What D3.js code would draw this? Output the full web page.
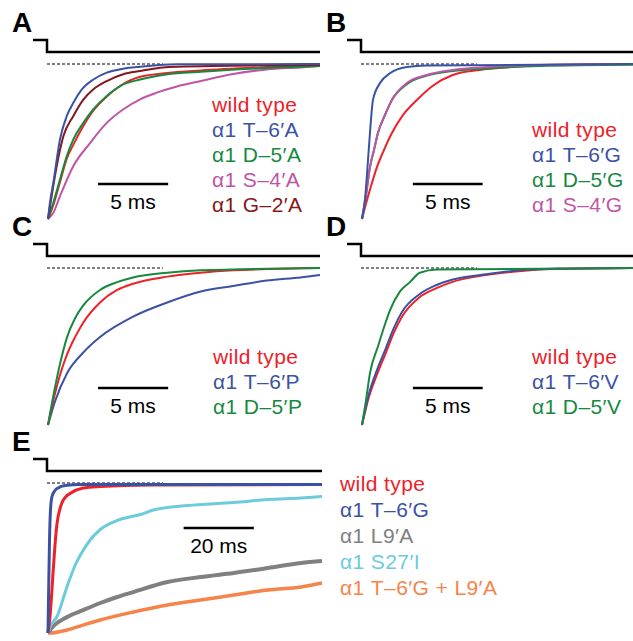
<!DOCTYPE html>
<html>
<head>
<meta charset="utf-8">
<script src="https://cdn.jsdelivr.net/npm/d3@7"></script>
<style>
  body { margin: 0; background: #fff; }
  svg { display: block; font-family: "Liberation Sans", Arial, sans-serif; }
</style>
</head>
<body>
<div class="canvas"></div>
<script>
const dims = {width: 633, height: 641};

const colors = {
  wt: '#ee2128', blue: '#3b52a3', green: '#17893f', magenta: '#bf55a6',
  darkred: '#84181b', cyan: '#6ccbdd', gray: '#808080', orange: '#f5844a'
};

// normalized traces: [time (ms), fraction of peak]
// panel A (alanine)
const a_wt = [[0,0],[0.38,0.09],[0.86,0.24],[1.34,0.39],[1.81,0.48],[2.52,0.6],[3.24,0.7],[4.19,0.79],[5.14,0.858],[6.57,0.918],[8.5,0.942],[10.9,0.958],[15.6,0.98],[19.4,0.994]];
const a_t6 = [[0,0],[0.14,0.105],[0.38,0.234],[0.86,0.516],[1.34,0.665],[1.81,0.75],[2.52,0.847],[3.24,0.9],[4.19,0.944],[5.36,0.97],[6.57,0.983],[7.76,0.992],[9.19,0.998],[19.4,1]];
const a_d5 = [[0,0],[0.38,0.105],[0.86,0.256],[1.34,0.406],[1.81,0.514],[2.52,0.62],[3.24,0.708],[4.19,0.794],[5.14,0.858],[6.57,0.9],[7.76,0.923],[9.19,0.94],[10.9,0.95],[15.6,0.974],[19.4,0.987]];
const a_s4 = [[0,0],[0.38,0.04],[0.86,0.148],[1.81,0.342],[3,0.49],[4.19,0.62],[5.38,0.708],[6.57,0.772],[7.76,0.815],[9.19,0.855],[10.9,0.89],[13.2,0.935],[15.6,0.965],[18,0.978],[19.4,0.987]];
const a_g2 = [[0,0],[0.26,0.148],[0.62,0.34],[1.1,0.535],[1.81,0.665],[2.52,0.77],[3.24,0.837],[4.19,0.89],[5.36,0.934],[6.57,0.955],[8,0.976],[9.2,0.983],[19.4,0.993]];

// panel B (glycine)
const b_wt = [[0,0],[0.36,0.123],[0.71,0.232],[1.07,0.335],[1.57,0.445],[2.14,0.555],[2.93,0.67],[3.93,0.768],[5.07,0.86],[6.5,0.929],[8.43,0.961],[10.57,0.98],[12.71,0.994],[19.4,1]];
const b_t6 = [[0,0],[0.21,0.123],[0.43,0.38],[0.57,0.555],[0.79,0.77],[1.29,0.877],[2,0.94],[3.21,0.98],[4.64,0.99],[19.4,1]];
const b_d5 = [[0,0],[0.29,0.155],[0.57,0.335],[0.86,0.445],[1.14,0.555],[1.64,0.67],[2.14,0.768],[3.21,0.87],[4.64,0.925],[6.5,0.955],[8.93,0.971],[12.71,0.987],[19.4,0.995]];
const b_s4 = [[0,0],[0.29,0.155],[0.57,0.335],[0.86,0.445],[1.14,0.555],[1.64,0.67],[2.14,0.768],[3.21,0.877],[4.64,0.929],[6.5,0.961],[8.93,0.98],[12.71,0.994],[19.4,1]];

// panel C (proline)
const c_wt = [[0,0],[0.5,0.2],[0.86,0.32],[1.36,0.45],[1.93,0.56],[2.5,0.65],[3.71,0.78],[4.93,0.86],[6.07,0.9],[8.5,0.945],[10.9,0.97],[13.2,0.985],[19.4,1]];
const c_t6 = [[0,0],[0.5,0.15],[1.36,0.33],[2.5,0.46],[3.71,0.56],[6.07,0.69],[8.5,0.78],[10.9,0.85],[13.2,0.885],[15.6,0.92],[18,0.94],[19.4,0.955]];
const c_d5 = [[0,0],[0.5,0.24],[0.86,0.39],[1.36,0.56],[1.93,0.68],[2.5,0.76],[3.71,0.86],[4.93,0.91],[6.07,0.94],[8.5,0.97],[10.9,0.985],[19.4,1]];

// panel D (valine)
const d_wt = [[0,0],[0.5,0.18],[1.07,0.32],[1.71,0.46],[2.29,0.59],[2.86,0.69],[4.07,0.81],[5.29,0.87],[6.43,0.91],[8.86,0.955],[11.2,0.98],[14.1,0.995],[19.4,1]];
const d_t6 = [[0,0],[0.5,0.2],[1.07,0.35],[1.71,0.49],[2.29,0.62],[2.86,0.72],[4.07,0.83],[5.29,0.89],[6.43,0.925],[8.86,0.96],[11.2,0.985],[14.1,0.995],[19.4,1]];
const d_d5 = [[0,0],[0.29,0.16],[0.57,0.33],[1.14,0.5],[1.64,0.64],[2,0.73],[2.71,0.85],[3.43,0.91],[4.14,0.97],[5.36,0.99],[19.4,1]];

// panel E (long time scale)
const e_wt = [[0,0],[0.57,0.11],[1.14,0.29],[1.43,0.4],[2,0.59],[2.57,0.73],[3.43,0.83],[4,0.87],[5.14,0.91],[6.29,0.93],[10,0.967],[14.9,0.977],[29,0.987],[78,0.99]];
const e_t6 = [[0,0],[0.14,0.22],[0.43,0.62],[0.71,0.82],[1.14,0.91],[2,0.95],[2.86,0.967],[4.86,0.983],[9.1,0.99],[78,0.99]];
const e_l9 = [[0,0],[0.57,0.02],[5.43,0.107],[10,0.153],[14.9,0.2],[19.7,0.24],[24.3,0.273],[34,0.34],[43.4,0.373],[52.9,0.4],[62.6,0.433],[72,0.467],[78,0.48]];
const e_s27 = [[0,0],[0.57,0.04],[2.57,0.11],[5.43,0.31],[7.7,0.45],[10,0.55],[12,0.62],[14.9,0.69],[19.7,0.75],[26.3,0.79],[30,0.82],[39.7,0.85],[52.9,0.87],[62.6,0.89],[72,0.9],[78,0.91]];
const e_t6l9 = [[0,0],[0.57,0],[5.43,0.02],[10,0.053],[14.9,0.087],[24.3,0.14],[34,0.187],[43.4,0.22],[52.9,0.253],[62.6,0.287],[72,0.307],[78,0.333]];

const panels = [
  {label: 'A', x0: 48, x1: 320, y0: 219, yTop: 64, span: 19.4, bar: [3.57, 5], barY: 184, barText: '5 ms',
   series: [
     {data: a_s4, color: colors.magenta},
     {data: a_wt, color: colors.wt},
     {data: a_d5, color: colors.green},
     {data: a_g2, color: colors.darkred},
     {data: a_t6, color: colors.blue}],
   legend: ['wild type', '\u03b11 T\u20136\u2032A', '\u03b11 D\u20135\u2032A', '\u03b11 S\u20134\u2032A', '\u03b11 G\u20132\u2032A'],
   legendColors: [colors.wt, colors.blue, colors.green, colors.magenta, colors.darkred],
   legendX: 212, legendY: 112, legendStep: 25, lw: 2},
  {label: 'B', x0: 362, x1: 633, y0: 219, yTop: 64, span: 19.4, bar: [3.64, 5], barY: 184, barText: '5 ms',
   series: [
     {data: b_wt, color: colors.wt},
     {data: b_d5, color: colors.green},
     {data: b_s4, color: colors.magenta},
     {data: b_t6, color: colors.blue}],
   legend: ['wild type', '\u03b11 T\u20136\u2032G', '\u03b11 D\u20135\u2032G', '\u03b11 S\u20134\u2032G'],
   legendColors: [colors.wt, colors.blue, colors.green, colors.magenta],
   legendX: 532, legendY: 137, legendStep: 25, lw: 2},
  {label: 'C', x0: 48, x1: 320, y0: 425, yTop: 268, span: 19.4, bar: [3.57, 5], barY: 388, barText: '5 ms',
   series: [
     {data: c_t6, color: colors.blue},
     {data: c_wt, color: colors.wt},
     {data: c_d5, color: colors.green}],
   legend: ['wild type', '\u03b11 T\u20136\u2032P', '\u03b11 D\u20135\u2032P'],
   legendColors: [colors.wt, colors.blue, colors.green],
   legendX: 213, legendY: 364, legendStep: 25, lw: 2},
  {label: 'D', x0: 362, x1: 633, y0: 425, yTop: 268, span: 19.4, bar: [3.64, 5], barY: 388, barText: '5 ms',
   series: [
     {data: d_wt, color: colors.wt},
     {data: d_t6, color: colors.blue},
     {data: d_d5, color: colors.green}],
   legend: ['wild type', '\u03b11 T\u20136\u2032V', '\u03b11 D\u20135\u2032V'],
   legendColors: [colors.wt, colors.blue, colors.green],
   legendX: 532, legendY: 364, legendStep: 25, lw: 2},
  {label: 'E', x0: 48, x1: 322, y0: 633, yTop: 483, span: 78, bar: [38.6, 20], barY: 528, barText: '20 ms',
   series: [
     {data: e_t6l9, color: colors.orange, w: 3.5},
     {data: e_l9, color: colors.gray, w: 4},
     {data: e_s27, color: colors.cyan, w: 3},
     {data: e_wt, color: colors.wt, w: 3},
     {data: e_t6, color: colors.blue, w: 3}],
   legend: ['wild type', '\u03b11 T\u20136\u2032G', '\u03b11 L9\u2032A', '\u03b11 S27\u2032I', '\u03b11 T\u20136\u2032G + L9\u2032A'],
   legendColors: [colors.wt, colors.blue, colors.gray, colors.cyan, colors.orange],
   legendX: 340, legendY: 491, legendStep: 26, lw: 3}
];

const svg = d3.select('.canvas')
  .append('svg')
  .attr('width', dims.width)
  .attr('height', dims.height);

panels.forEach(p => {
  const g = svg.append('g');

  const x = d3.scaleLinear().domain([0, p.span]).range([p.x0, p.x1]);
  const y = d3.scaleLinear().domain([0, 1]).range([p.y0, p.yTop]);

  // panel letter
  g.append('text')
    .attr('x', p.x0 - 36)
    .attr('y', p.yTop - 32)
    .attr('font-size', 28)
    .attr('font-weight', 'bold')
    .text(p.label);

  // solution exchange step
  const stepHi = p.yTop - 24, stepLo = p.yTop - 12;
  g.append('path')
    .attr('fill', 'none')
    .attr('stroke', '#000')
    .attr('stroke-width', 2.5)
    .attr('d', `M${p.x0 - 15},${stepHi}H${p.x0 - 1}V${stepLo}H${p.x1}`);

  // dotted line at full current
  g.append('line')
    .attr('x1', p.x0 - 1).attr('x2', p.x0 + 115)
    .attr('y1', y(1)).attr('y2', y(1))
    .attr('stroke', '#000')
    .attr('stroke-width', 1)
    .attr('stroke-dasharray', '3,2');

  const line = d3.line()
    .x(d => x(d[0]))
    .y(d => y(d[1]))
    .curve(d3.curveMonotoneX);

  g.selectAll('.trace')
    .data(p.series)
    .enter()
    .append('path')
      .classed('trace', true)
      .attr('fill', 'none')
      .attr('stroke', d => d.color)
      .attr('stroke-width', d => d.w || p.lw)
      .attr('stroke-linejoin', 'round')
      .attr('d', d => line(d.data));

  // scale bar
  const bx0 = x(p.bar[0]), bx1 = x(p.bar[0] + p.bar[1]);
  g.append('line')
    .attr('x1', bx0).attr('x2', bx1)
    .attr('y1', p.barY).attr('y2', p.barY)
    .attr('stroke', '#000')
    .attr('stroke-width', 2.5);
  g.append('text')
    .attr('x', (bx0 + bx1) / 2)
    .attr('y', p.barY + 25)
    .attr('text-anchor', 'middle')
    .attr('font-size', 21)
    .text(p.barText);

  // legend
  g.selectAll('.leg')
    .data(p.legend)
    .enter()
    .append('text')
      .classed('leg', true)
      .attr('x', p.legendX)
      .attr('y', (d, i) => p.legendY + i * p.legendStep)
      .attr('font-size', 21)
      .attr('letter-spacing', 0.4)
      .attr('fill', (d, i) => p.legendColors[i])
      .text(d => d);
});
</script>
</body>
</html>
